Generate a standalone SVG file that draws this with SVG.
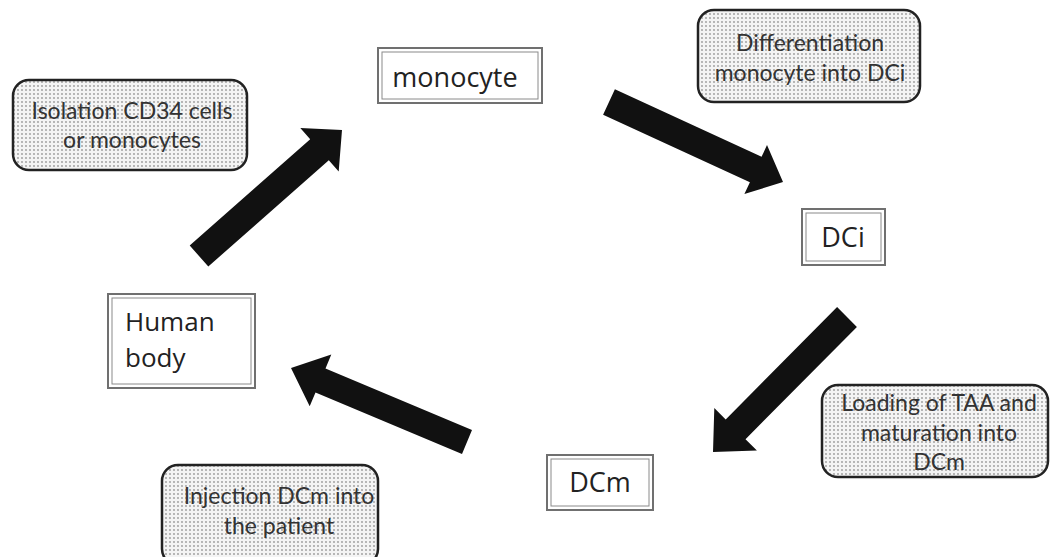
<svg xmlns="http://www.w3.org/2000/svg" width="1051" height="557" viewBox="0 0 1051 557">
<defs>
<pattern id="dots" width="4" height="4" patternUnits="userSpaceOnUse">
<rect width="4" height="4" fill="#f4f4f4"/>
<circle cx="2" cy="2" r="0.9" fill="#9a9a9a"/>
</pattern>
<style>
.callout{fill:url(#dots);stroke:#222;stroke-width:2.5}
.outer{fill:#fff;stroke:#707070;stroke-width:2}
.inner{fill:none;stroke:#8a8a8a;stroke-width:1}
.ct{font-family:Lato,"Liberation Sans",sans-serif;font-size:23px;fill:#333;text-anchor:middle}
.nt{font-family:"Open Sans","DejaVu Sans",sans-serif;font-size:27px;fill:#222}
.hb{font-size:26px}
.arrow{fill:#111}
</style>
</defs>
<rect width="1051" height="557" fill="#fff"/>
<g id="connectors">
<polygon class="arrow" points="208.3,266.5 328.8,160.3 338.7,171.5 342,130 300.3,128.1 310.2,139.3 189.7,245.5"/>
<polygon class="arrow" points="603.1,114.7 749.9,182.2 744.4,194 783,182 767,145 761.6,156.8 614.9,89.3"/>
<polygon class="arrow" points="856.9,326.9 745.5,439.2 756.9,450.5 713,452 714.3,408.1 725.7,419.4 837.1,307.1"/>
<polygon class="arrow" points="472,430 325.5,368.4 331.3,354.6 291,368 309.7,406.2 315.5,392.4 462,454"/>
</g>
<g id="isolation">
<rect class="callout" x="13" y="80" width="234" height="90" rx="16"/>
<text class="ct" x="132" y="119">Isolation CD34 cells</text>
<text class="ct" x="132" y="148">or monocytes</text>
</g>
<g id="monocyte">
<rect class="outer" x="378" y="48" width="164" height="55"/>
<rect class="inner" x="382" y="52" width="156" height="47"/>
<text class="nt" x="455" y="87" text-anchor="middle">monocyte</text>
</g>
<g id="differentiation">
<rect class="callout" x="698" y="10" width="222" height="92" rx="16"/>
<text class="ct" x="810" y="51">Differentiation</text>
<text class="ct" x="810" y="81">monocyte into DCi</text>
</g>
<g id="dci">
<rect class="outer" x="802" y="209" width="83" height="56"/>
<rect class="inner" x="806" y="213" width="75" height="48"/>
<text class="nt" x="843" y="247" text-anchor="middle">DCi</text>
</g>
<g id="loading">
<rect class="callout" x="822" y="385" width="226" height="92" rx="16"/>
<text class="ct" x="939" y="411">Loading of TAA and</text>
<text class="ct" x="939" y="441">maturation into</text>
<text class="ct" x="939" y="470">DCm</text>
</g>
<g id="dcm">
<rect class="outer" x="547" y="455" width="106" height="55"/>
<rect class="inner" x="551" y="459" width="98" height="47"/>
<text class="nt" x="600" y="492" text-anchor="middle">DCm</text>
</g>
<g id="injection">
<rect class="callout" x="162" y="465" width="216" height="100" rx="16"/>
<text class="ct" x="279" y="504">Injection DCm into</text>
<text class="ct" x="279" y="534">the patient</text>
</g>
<g id="human-body">
<rect class="outer" x="108" y="294" width="147" height="94"/>
<rect class="inner" x="112" y="298" width="139" height="86"/>
<text class="nt hb" x="125" y="331">Human</text>
<text class="nt hb" x="125" y="367">body</text>
</g>
</svg>
